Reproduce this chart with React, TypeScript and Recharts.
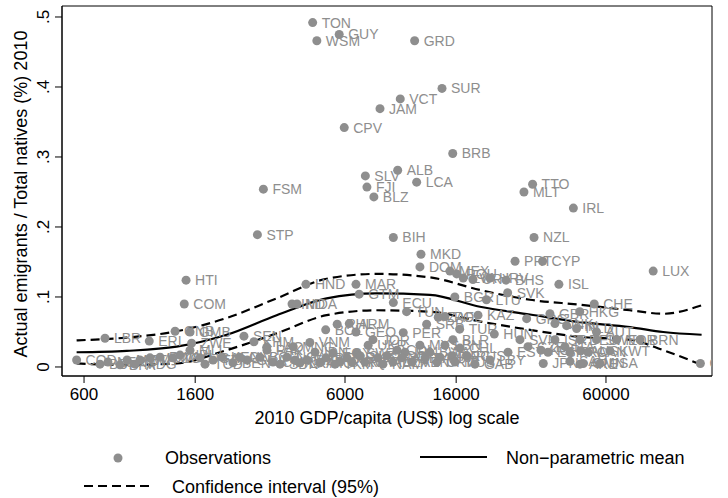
import React from "react";
import { ComposedChart, Scatter, Line, XAxis, YAxis, Label, ReferenceArea } from "recharts";

// observations: ISO code, 2010 GDP per capita (US$), emigrants / natives
const countries = [
  "TON", "GUY", "WSM", "GRD", "SUR", "VCT", "JAM", "CPV", "BRB", "ALB", "SLV", "LCA", "FJI", "FSM", "BLZ",
  "TTO", "MLT", "IRL", "STP", "BIH", "NZL", "MKD", "PRT", "CYP", "DOM", "LUX", "MEX", "ROU", "LVA", "URY",
  "HRV", "BHS", "HTI", "ISL", "HND", "MAR", "SVK", "GTM", "BGR", "LTU", "ECU", "CHE", "COM", "IND", "MDA",
  "TUN", "HKG", "GBR", "KAZ", "POL", "ZAF", "GRC", "ARM", "PHL", "SRB", "DNK", "FIN", "NLD", "TUR", "BOL",
  "GEO", "AUT", "GNB", "GMB", "PER", "HUN", "SEN", "LBR", "ERI", "KHM", "ZWE", "VNM", "NOR", "BRN", "SVN",
  "ISR", "DEU", "SWE", "BLR", "JOR", "CZE", "ITA", "KOR", "KWT", "AUS", "CAN", "FRA", "ESP", "EST", "LBN",
  "MYS", "IRN", "VEN", "PAN", "BWA", "CRI", "BRA", "ARG", "CHL", "RUS", "GAB", "LBY", "SAU", "OMN", "USA",
  "JPN", "ARE", "QAT", "EGY", "SYR", "PRY", "SWZ", "THA", "UKR", "CHN", "AGO", "DZA", "COL", "AZE", "TZA",
  "KEN", "BEN", "GHA", "BGD", "PAK", "LAO", "CMR", "NGA", "MNG", "LKA", "UZB", "IDN", "NIC", "BTN", "COD",
  "BDI", "NER", "BFA", "MWI", "MDG", "ETH", "MOZ", "RWA", "TGO", "NPL", "MLI", "UGA", "TCD", "CIV", "SDN",
  "YEM", "TKM", "IRQ", "NAM", "SLB", "MUS",
];
const gdpPerCapita = [
  4510, 5700, 4680, 11090, 14120, 9770, 8170, 5960, 15520, 9550, 7180, 11290, 7280, 2920, 7740,
  31400, 29100, 45000, 2770, 9190, 31800, 11730, 26900, 34300, 11620, 91000, 15140, 16070, 17030, 18550,
  21560, 24850, 1476, 39600, 4250, 6610, 25200, 6800, 15810, 20900, 9190, 54100, 1453, 3760, 3930,
  10330, 47600, 36600, 19400, 14490, 13660, 29800, 6230, 5600, 12330, 38240, 42400, 46300, 16500, 5060,
  6610, 55200, 1340, 1528, 10030, 22400, 2460, 722, 1067, 2687, 1550, 4400, 65900, 81000, 28090,
  38240, 47700, 55200, 15550, 7680, 30150, 41770, 33810, 62100, 48100, 51170, 43660, 35960, 25270, 14490,
  11620, 10180, 10830, 12150, 12690, 13510, 13870, 15410, 16540, 17590, 18880, 21560, 43660, 49100, 56900,
  34500, 47700, 138000, 5395, 5739, 6106, 6668, 7153, 7360, 8024, 8688, 9161, 9489, 9910, 1872,
  2026, 2233, 2530, 2833, 3014, 3006, 3178, 3596, 3800, 4034, 4289, 4604, 4812, 5073, 562,
  691, 741, 824, 877, 941, 983, 1074, 1173, 1315, 1399, 1528, 1669, 1745, 2375, 3381,
  3858, 5492, 6380, 8385, 6845, 15830,
];
const emigrantShare = [
  0.492, 0.475, 0.466, 0.466, 0.398, 0.383, 0.369, 0.342, 0.305, 0.281, 0.273, 0.264, 0.257, 0.254, 0.243,
  0.261, 0.25, 0.227, 0.189, 0.185, 0.185, 0.161, 0.151, 0.151, 0.143, 0.137, 0.137, 0.133, 0.127, 0.125,
  0.127, 0.124, 0.124, 0.118, 0.118, 0.118, 0.106, 0.104, 0.1, 0.096, 0.092, 0.09, 0.09, 0.09, 0.09,
  0.079, 0.079, 0.076, 0.074, 0.072, 0.071, 0.069, 0.062, 0.061, 0.061, 0.062, 0.059, 0.055, 0.054, 0.053,
  0.05, 0.05, 0.051, 0.05, 0.049, 0.047, 0.044, 0.041, 0.037, 0.036, 0.034, 0.035, 0.039, 0.039, 0.039,
  0.039, 0.039, 0.039, 0.039, 0.039, 0.029, 0.029, 0.024, 0.023, 0.023, 0.021, 0.021, 0.021, 0.021, 0.031,
  0.031, 0.021, 0.007, 0.013, 0.021, 0.007, 0.014, 0.016, 0.027, 0.016, 0.004, 0.01, 0.008, 0.005, 0.005,
  0.005, 0.004, 0.005, 0.02, 0.007, 0.013, 0.02, 0.007, 0.031, 0.013, 0.016, 0.007, 0.024, 0.013, 0.01,
  0.014, 0.006, 0.01, 0.014, 0.024, 0.028, 0.007, 0.014, 0.029, 0.006, 0.01, 0.021, 0.006, 0.013, 0.01,
  0.004, 0.007, 0.003, 0.01, 0.004, 0.01, 0.013, 0.014, 0.013, 0.017, 0.024, 0.013, 0.004, 0.014, 0.004,
  0.01, 0.004, 0.007, 0.004, 0.016, 0.007,
];

// smoothed fit and 95% band
const fitGdp = [562, 874, 1359, 2112, 3283, 5104, 7934, 12694, 19740, 30680, 47700, 74130, 99430, 139500];
const fitMean = [0.021, 0.023, 0.029, 0.046, 0.074, 0.098, 0.105, 0.103, 0.086, 0.075, 0.064, 0.057, 0.05, 0.046];
const fitUpper = [0.038, 0.042, 0.051, 0.07, 0.098, 0.126, 0.133, 0.128, 0.11, 0.096, 0.089, 0.081, 0.076, 0.088];
const fitLower = [0.005, 0.003, 0.005, 0.024, 0.048, 0.074, 0.081, 0.079, 0.065, 0.053, 0.043, 0.039, 0.024, 0.003];

const xTicks = [600, 1600, 6000, 16000, 60000];
const yTicks = [0, 0.1, 0.2, 0.3, 0.4, 0.5];

const GREY = "#8e8e8e";
const FONT = "'Liberation Sans', Arial, Helvetica, sans-serif";

const obs = countries.map((name, i) => ({ name, gdp: gdpPerCapita[i], share: emigrantShare[i] }));
const fit = fitGdp.map((gdp, i) => ({ gdp, mean: fitMean[i], hi: fitUpper[i], lo: fitLower[i] }));

function ObsMarker(p: any) {
  if (p.cx == null || p.cy == null) return null;
  return (
    <g>
      <circle cx={p.cx} cy={p.cy} r={4.5} fill={GREY} />
      <text x={p.cx + 9} y={p.cy + 5} fontSize={14} fill={GREY} fontFamily={FONT}>
        {p.payload.name}
      </text>
    </g>
  );
}

function YTick(props: any) {
  const { x, y, payload } = props;
  const v = payload.value;
  const s = v === 0 ? "0" : "." + Math.round(v * 10);
  const bx = x - 4;
  return (
    <text x={bx} y={y} transform={`rotate(-90, ${bx}, ${y})`} textAnchor="middle" fontSize={17} fill="#000" fontFamily={FONT}>
      {s}
    </text>
  );
}

export default function App() {
  return (
    <div style={{ position: "absolute", left: 0, top: 0, width: 728, height: 498, background: "#fff", fontFamily: FONT }}>
      <ComposedChart width={728} height={498} margin={{ top: 6, right: 16, left: 0, bottom: 72 }}>
        <XAxis
          type="number"
          dataKey="gdp"
          scale="log"
          domain={[494, 152900]}
          allowDataOverflow
          ticks={xTicks}
          interval={0}
          height={50}
          tickSize={7}
          tickMargin={5}
          stroke="#000"
          tick={{ fill: "#000", fontSize: 17, fontFamily: FONT }}
        >
          <Label
            content={(lp: any) => (
              <text x={lp.viewBox.x + lp.viewBox.width / 2} y={lp.viewBox.y + 48} textAnchor="middle" fontSize={18} fill="#000" fontFamily={FONT}>
                2010 GDP/capita (US$) log scale
              </text>
            )}
          />
        </XAxis>
        <YAxis
          type="number"
          domain={[-0.0129, 0.5157]}
          allowDataOverflow
          ticks={yTicks}
          width={62}
          tickSize={7}
          stroke="#000"
          tick={<YTick />}
        >
          <Label
            content={(lp: any) => {
              const cx = 27;
              const cy = lp.viewBox.y + lp.viewBox.height / 2 + 3;
              return (
                <text x={cx} y={cy} transform={`rotate(-90, ${cx}, ${cy})`} textAnchor="middle" fontSize={18} fill="#000" fontFamily={FONT}>
                  Actual emigrants / Total natives (%) 2010
                </text>
              );
            }}
          />
        </YAxis>
        <ReferenceArea x1={494} x2={152900} y1={-0.0129} y2={0.5157} fill="none" stroke="#000" strokeWidth={1} ifOverflow="visible" />
        <Scatter data={obs} dataKey="share" shape={<ObsMarker />} isAnimationActive={false} />
        <Line data={fit} dataKey="hi" type="monotone" stroke="#000" strokeWidth={2.2} strokeDasharray="9 5" dot={false} isAnimationActive={false} />
        <Line data={fit} dataKey="lo" type="monotone" stroke="#000" strokeWidth={2.2} strokeDasharray="9 5" dot={false} isAnimationActive={false} />
        <Line data={fit} dataKey="mean" type="monotone" stroke="#000" strokeWidth={2.2} dot={false} isAnimationActive={false} />
      </ComposedChart>
      <svg width={728} height={80} style={{ position: "absolute", left: 0, top: 430 }}>
        <circle cx={118} cy={28} r={4.5} fill={GREY} />
        <text x={165} y={34} fontSize={18} fill="#000" fontFamily={FONT}>Observations</text>
        <line x1={420} x2={487} y1={27} y2={27} stroke="#000" strokeWidth={2.2} />
        <text x={506} y={34} fontSize={18} fill="#000" fontFamily={FONT}>Non−parametric mean</text>
        <line x1={84} x2={153} y1={56} y2={56} stroke="#000" strokeWidth={2.2} strokeDasharray="9 5" />
        <text x={172} y={63} fontSize={18} fill="#000" fontFamily={FONT}>Confidence interval (95%)</text>
      </svg>
    </div>
  );
}
